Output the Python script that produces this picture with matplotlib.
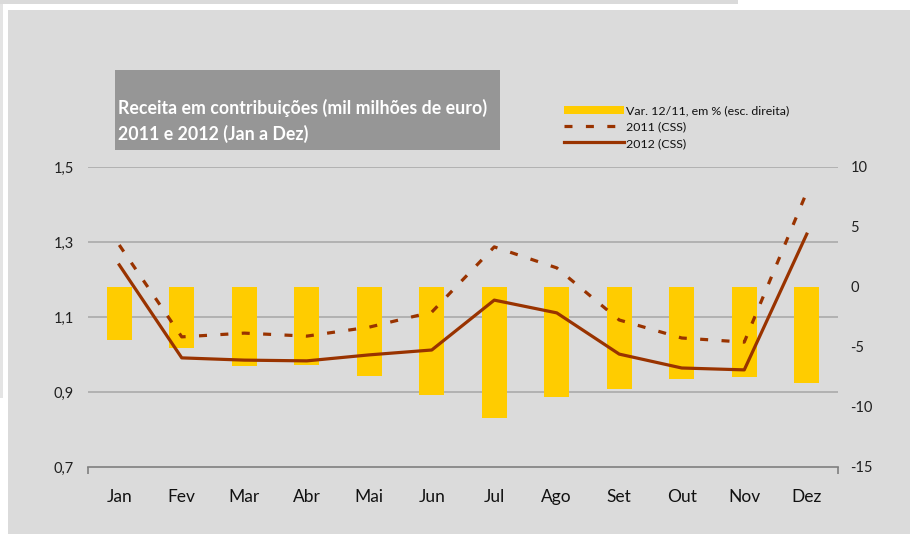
import numpy as np
from matplotlib import pyplot as plt
from matplotlib.patches import Rectangle

# dados
meses = ['Jan', 'Fev', 'Mar', 'Abr', 'Mai', 'Jun', 'Jul', 'Ago', 'Set', 'Out', 'Nov', 'Dez']
css_2011 = [1.292, 1.047, 1.057, 1.049, 1.073, 1.113, 1.287, 1.231, 1.092, 1.044, 1.033, 1.433]
css_2012 = [1.239, 0.991, 0.985, 0.983, 0.999, 1.012, 1.145, 1.111, 1.001, 0.964, 0.959, 1.321]
var_12_11 = [-4.4, -5.1, -6.6, -6.5, -7.4, -9.0, -10.9, -9.2, -8.5, -7.7, -7.5, -8.0]

left_ticks = [0.7, 0.9, 1.1, 1.3, 1.5]
right_ticks = [-15, -10, -5, 0, 5, 10]

titulo = 'Receita em contribuições (mil milhões de euro)\n2011 e 2012 (Jan a Dez)'
leg_labels = ['Var. 12/11, em % (esc. direita)', '2011 (CSS)', '2012 (CSS)']

plt.rcParams['font.family'] = ['Lato', 'DejaVu Sans']

W, H = 910, 534
fig = plt.figure(figsize=(W / 100, H / 100), dpi=100)
fig.patch.set_facecolor('white')


def px_rect(x0, y0, x1, y1, color):
    # retangulo em pixeis (origem no canto superior esquerdo)
    return Rectangle((x0 / W, 1 - y1 / H), (x1 - x0) / W, (y1 - y0) / H,
                     transform=fig.transFigure, facecolor=color, edgecolor='none',
                     zorder=-10)


# fundo cinzento tipo screenshot
fig.patches.append(px_rect(0, 0, 738, 4, '#dadada'))
fig.patches.append(px_rect(0, 4, 3, 398, '#e4e4e4'))
fig.patches.append(px_rect(8, 10, 910, 534, '#dbdbdb'))
fig.patches.append(px_rect(115, 70, 500, 150, '#969696'))

ax2 = fig.add_axes([88 / W, 1 - 467 / H, (838 - 88) / W, 300 / H])
ax = ax2.twinx()
ax.yaxis.tick_left()
ax2.yaxis.tick_right()
ax.set_zorder(ax2.get_zorder() + 1)
ax.patch.set_visible(False)
ax2.patch.set_visible(False)

x = np.arange(len(meses))

# barras (eixo direito)
bars = ax2.bar(x, var_12_11, width=0.4, color='#ffcc00', zorder=2)
ax2.set_ylim(-15, 10)
ax2.set_yticks(right_ticks)
ax2.set_yticklabels([str(t) for t in right_ticks])
ax2.tick_params(axis='y', length=0, pad=9, labelsize=10.5, colors='#202020')

# linhas (eixo esquerdo)
l11, = ax.plot(x, css_2011, color='#993300', lw=2.3, dashes=(2.5, 4.2), zorder=3)
l12, = ax.plot(x, css_2012, color='#993300', lw=2.3, zorder=4)
ax.set_ylim(0.7, 1.5)
ax.set_yticks(left_ticks)
ax.set_yticklabels([f'{t:.1f}'.replace('.', ',') for t in left_ticks])
ax.tick_params(axis='y', length=0, pad=10, labelsize=10.5, colors='#202020')
# grelha do eixo esquerdo, desenhada por tras das barras
for t in left_ticks[1:]:
    ax2.axhline(-15 + (t - 0.7) / 0.8 * 25, color='#a6a6a6', lw=1.1, zorder=1)

ax2.set_xlim(-0.5, len(meses) - 0.5)
ax2.set_xticks(x)
ax2.set_xticklabels(meses)
ax2.tick_params(axis='x', length=0, pad=16, labelsize=12.5, colors='#111111')
ax2.set_xticks([-0.5, len(meses) - 0.5], minor=True)
ax2.tick_params(axis='x', which='minor', length=5, width=1.2, color='#7f7f7f')
ax.tick_params(axis='x', length=0, labelbottom=False)

for a in (ax, ax2):
    for s in ('top', 'left', 'right', 'bottom'):
        a.spines[s].set_visible(False)
ax2.spines['bottom'].set_visible(True)
ax2.spines['bottom'].set_color('#7f7f7f')
ax2.spines['bottom'].set_linewidth(1.2)

fig.text(118 / W, 1 - 121 / H, titulo, color='white', fontsize=12.8, fontweight='bold',
         va='center', ha='left', linespacing=1.5)

fig.legend([bars, l11, l12], leg_labels, loc='upper left',
           bbox_to_anchor=(557 / W, 1 - 98 / H), frameon=False, fontsize=8.9,
           handlelength=4.8, handleheight=0.7, labelspacing=0.42, handletextpad=0.2,
           borderpad=0.1, labelcolor='#111111')

plt.savefig('out.png', dpi=100)
